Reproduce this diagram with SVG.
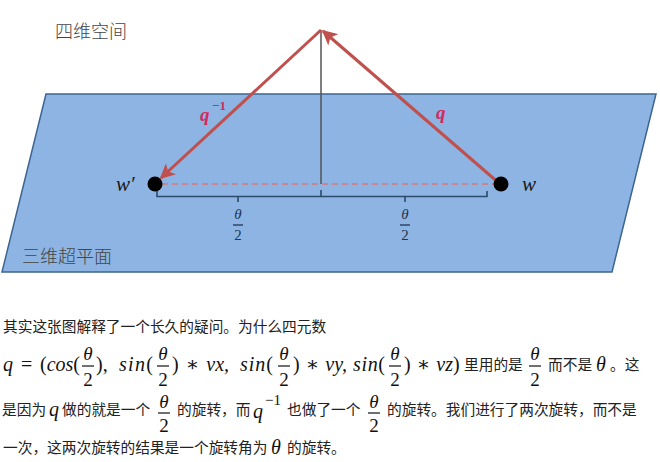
<svg xmlns="http://www.w3.org/2000/svg" width="660" height="462" viewBox="0 0 660 462">
<style>
.cjk{font-family:"Noto Sans CJK SC","Noto Sans",sans-serif;font-size:14.7px;fill:#222}
.lbl{font-family:"Noto Sans CJK SC",sans-serif;font-size:18px;fill:#444;font-weight:300}
.m{font-family:"Liberation Serif","DejaVu Serif",serif;font-style:italic;font-size:20px;fill:#111}
.f{font-family:"Liberation Serif","DejaVu Serif",serif;font-style:italic;font-size:19px;fill:#111;text-anchor:middle}
.up{font-style:normal}
.fb{stroke:#111;stroke-width:1.2}
.red{font-family:"Liberation Serif",serif;font-style:italic;font-size:19px;fill:#D42A5C;font-weight:bold}
.wl{font-family:"Liberation Serif",serif;font-style:italic;font-size:21px;fill:#1a1a1a}
.h{font-family:"Liberation Serif",serif;font-size:15px;fill:#1F3550;text-anchor:middle}
.arr{stroke:#C0504D;stroke-width:3;fill:none;marker-end:url(#ah)}
.brace{stroke:#2C4A6B;stroke-width:1.6;fill:none}
</style>
<defs>
<marker id="ah" viewBox="0 0 10 10" refX="9" refY="5" markerWidth="5" markerHeight="5" orient="auto" markerUnits="strokeWidth">
<path d="M0,0 L10,5 L0,10 L2.5,5 z" fill="#C0504D"/>
</marker>
</defs>
<g id="hyperplane">
<polygon points="46,94 656,94 612,272 2,272" fill="#8DB4E2" stroke="#3C6591" stroke-width="1.5"/>
<text class="lbl" x="22" y="263">三维超平面</text>
</g>
<text id="space-label" class="lbl" x="55" y="38">四维空间</text>
<g id="connectors">
<line x1="321" y1="30" x2="321" y2="184" stroke="#555" stroke-width="1.5"/>
<line x1="162" y1="184" x2="494" y2="184" stroke="#D9777A" stroke-width="1.5" stroke-dasharray="6,4"/>
<line class="arr" x1="500" y1="184" x2="323" y2="31"/>
<line class="arr" x1="321" y1="30" x2="161" y2="178"/>
<path class="brace" d="M157,190 V196.5 H487 V191 M321,196.5 V190 M238,196.5 V202 M405,196.5 V202"/>
<text class="red" x="200" y="121">q</text>
<text class="red" x="212" y="110" style="font-size:13px;font-style:normal">−1</text>
<text class="red" x="436" y="119">q</text>
<text class="h" x="238" y="219" style="font-style:italic">θ</text>
<line x1="233" y1="225" x2="243" y2="225" stroke="#1F3550" stroke-width="1.3"/>
<text class="h" x="238" y="240">2</text>
<text class="h" x="405" y="219" style="font-style:italic">θ</text>
<line x1="400" y1="225" x2="410" y2="225" stroke="#1F3550" stroke-width="1.3"/>
<text class="h" x="405" y="240">2</text>
</g>
<g id="w-prime">
<circle cx="155" cy="184" r="7.5" fill="#000"/>
<text class="wl" x="116" y="191">w′</text>
</g>
<g id="w">
<circle cx="501" cy="184" r="7.5" fill="#000"/>
<text class="wl" x="522" y="191">w</text>
</g>

<text class="cjk" x="3" y="332">其实这张图解释了一个长久的疑问。为什么四元数</text>

<g id="formula">
<text class="m" x="3" y="371">q</text>
<text class="m up" x="21" y="371">=</text>
<text class="m" x="40" y="371"><tspan class="up">(</tspan>cos<tspan class="up">(</tspan></text>
<text class="f" x="88" y="360">θ</text><line class="fb" x1="82" y1="366" x2="94" y2="366"/><text class="f up" x="88" y="386">2</text>
<text class="m up" x="96" y="371">),</text>
<text class="m" x="119" y="371" textLength="34" lengthAdjust="spacing">sin<tspan class="up">(</tspan></text>
<text class="f" x="163" y="360">θ</text><line class="fb" x1="157" y1="366" x2="169" y2="366"/><text class="f up" x="163" y="386">2</text>
<text class="m" x="172" y="371"><tspan class="up">)</tspan><tspan class="up" dx="7">∗</tspan><tspan dx="7">vx,</tspan></text>
<text class="m" x="240" y="371" textLength="33" lengthAdjust="spacing">sin<tspan class="up">(</tspan></text>
<text class="f" x="284" y="360">θ</text><line class="fb" x1="278" y1="366" x2="290" y2="366"/><text class="f up" x="284" y="386">2</text>
<text class="m" x="293" y="371"><tspan class="up">)</tspan><tspan class="up" dx="6">∗</tspan><tspan dx="6">vy,</tspan></text>
<text class="m" x="353" y="371" textLength="32" lengthAdjust="spacing">sin<tspan class="up">(</tspan></text>
<text class="f" x="395" y="360">θ</text><line class="fb" x1="389" y1="366" x2="401" y2="366"/><text class="f up" x="395" y="386">2</text>
<text class="m" x="404" y="371"><tspan class="up">)</tspan><tspan class="up" dx="6">∗</tspan><tspan dx="6">vz</tspan><tspan class="up">)</tspan></text>
<text class="cjk" x="464" y="370">里用的是</text>
<text class="f" x="535" y="360">θ</text><line class="fb" x1="529" y1="366" x2="541" y2="366"/><text class="f up" x="535" y="386">2</text>
<text class="cjk" x="548" y="370">而不是</text>
<text class="m" x="596" y="371">θ</text>
<text class="cjk" x="610" y="370">。这</text>
</g>

<g id="para">
<text class="cjk" x="2" y="415">是因为</text>
<text class="m" x="49" y="416">q</text>
<text class="cjk" x="62" y="415">做的就是一个</text>
<text class="f" x="164" y="408">θ</text><line class="fb" x1="158" y1="413" x2="170" y2="413"/><text class="f up" x="164" y="432">2</text>
<text class="cjk" x="177" y="415">的旋转，而</text>
<text class="m" x="253" y="418">q</text>
<text class="m up" x="265" y="405" style="font-size:15px">−1</text>
<text class="cjk" x="287" y="415">也做了一个</text>
<text class="f" x="374" y="408">θ</text><line class="fb" x1="368" y1="413" x2="380" y2="413"/><text class="f up" x="374" y="432">2</text>
<text class="cjk" x="387" y="415">的旋转。我们进行了两次旋转，而不是</text>
<text class="cjk" x="3" y="453">一次，这两次旋转的结果是一个旋转角为</text>
<text class="m" x="271" y="454">θ</text>
<text class="cjk" x="287" y="453">的旋转。</text>
</g>
</svg>
